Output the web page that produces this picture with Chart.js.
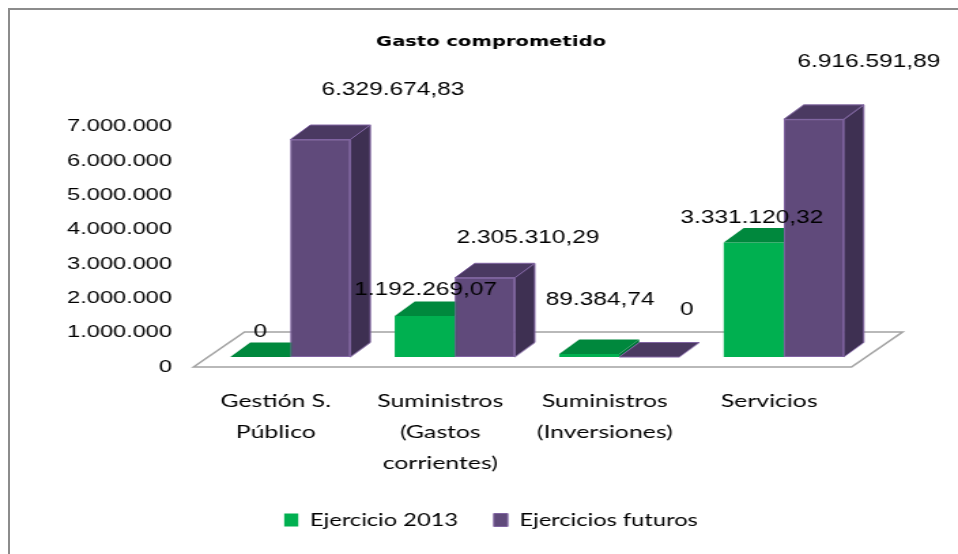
<!DOCTYPE html>
<html><head><meta charset="utf-8">
<script src="https://cdn.jsdelivr.net/npm/chart.js@4.4.1/dist/chart.umd.min.js"></script>
<style>
html,body{margin:0;padding:0;background:#fff;overflow:hidden;}
#wrap{position:relative;width:958px;height:554px;overflow:hidden;}
#c{position:absolute;left:0;top:0;}
#frame{position:absolute;left:8px;top:8px;width:1200px;height:1200px;border:2px solid #8c8c8c;box-sizing:border-box;pointer-events:none;}
</style></head>
<body><div id="wrap"><canvas id="c" width="704" height="554" style="width:958px;height:554px;"></canvas><div id="frame"></div></div>
<script>
// ---- data ----
const categories = [['Gestión S.','Público'], ['Suministros','(Gastos','corrientes)'], ['Suministros','(Inversiones)'], ['Servicios']];
const seriesNames = ['Ejercicio 2013', 'Ejercicios futuros'];
const ejercicio2013 = [0, 1192269.07, 89384.74, 3331120.32];
const ejerciciosFuturos = [6329674.83, 2305310.29, 0, 6916591.89];
const yTickLabels = ['0','1.000.000','2.000.000','3.000.000','4.000.000','5.000.000','6.000.000','7.000.000'];
const yMax = 7000000, yStep = 1000000;
const titleText = 'Gasto comprometido';

// ---- style / layout (canvas is stretched horizontally by S) ----
const S = 958 / 704;
const labelNudge = [
  [[0,-25],[0.7,-26],[8.1,-54],[-1.3,-24.6]],
  [[53.5,-49.5],[31.8,-40],[27.7,-47],[40.6,-57.4]]
];
const colors = {
  front: ['#00B050', '#604A7B'],
  top:   ['#00883D', '#4A3961'],
  side:  ['#00763A', '#3E3052'],
  edge:  [null, '#8064A2']
};

const mctx = document.createElement('canvas').getContext('2d');
function fitSize(text, fam, weight, target){
  mctx.font = weight + ' 100px ' + fam;
  return 100 * target / mctx.measureText(text).width;
}
const tickFamName = 'Liberation Sans';
const tickSize = fitSize('7.000.000', '"Liberation Sans"', 'normal', 105/S);
const xFam = 'Lato';
const xSize = fitSize('Suministros', 'Lato', 'normal', 126/S);
const legSize = fitSize('Ejercicio 2013', 'Lato', 'normal', 148/S);
const titleSize = fitSize(titleText, '"DejaVu Sans"', 'bold', 230/S);
const dlFam = '"Liberation Sans"';
const dlSize = fitSize('6.329.674,83', dlFam, 'normal', 143/S);

const AREA = {L: 208/S, R: 866/S, T: 116.5, B: 357};
const padL = 30;
const titleCenter = 491/S;
const padR = padL + 704 - 2*titleCenter;
const rightAxisW = 704 - AREA.R - padR;
const titleLH = titleSize*1.2;
const titlePadTop = 42 - titleLH/2;
const titlePadBot = AREA.T - titlePadTop - titleLH;
const legPad = 35.7/S;
const legTop = 520 - legPad - legSize/2;
const legH = legSize + legPad + 10;
const padB = 554 - legTop - legH;
const xAxisH = legTop - AREA.B;

const barDX = 20/S, barDY = 14.5;
const floorF = {dx: -14.5/S, dy: 10}, floorK = {dx: 36.5/S, dy: -25};

function fmt(v){
  if (v === 0) return '0';
  const p = v.toFixed(2).split('.');
  return p[0].replace(/\B(?=(\d{3})+(?!\d))/g, '.') + ',' + p[1];
}

function poly(ctx, pts, fill, stroke){
  ctx.beginPath(); ctx.moveTo(pts[0][0], pts[0][1]);
  for (let i=1;i<pts.length;i++) ctx.lineTo(pts[i][0], pts[i][1]);
  ctx.closePath(); ctx.fillStyle = fill; ctx.fill();
  if (stroke){ ctx.strokeStyle = stroke; ctx.lineWidth = 1; ctx.stroke(); }
}

const bar3d = {
  id: 'bar3d',
  beforeDatasetsDraw(chart){
    const ctx = chart.ctx, a = chart.chartArea;
    ctx.save();
    poly(ctx, [[a.left+floorF.dx, a.bottom+floorF.dy],[a.left+floorK.dx, a.bottom+floorK.dy],
               [a.right+floorK.dx, a.bottom+floorK.dy],[a.right+floorF.dx, a.bottom+floorF.dy]], '#ffffff', null);
    ctx.strokeStyle = '#a3a3a3'; ctx.lineWidth = 1.6; ctx.stroke();
    ctx.restore();
  },
  afterDatasetsDraw(chart){
    const ctx = chart.ctx;
    const n = chart.data.labels.length;
    ctx.save();
    for (let i=0;i<n;i++){
      for (let d=0; d<chart.data.datasets.length; d++){
        const el = chart.getDatasetMeta(d).data[i];
        const p = el.getProps(['x','y','base','width'], true);
        const l = p.x - p.width/2, r = p.x + p.width/2;
        const top = Math.min(p.y, p.base), bot = Math.max(p.y, p.base);
        if (d > 0) el.draw(ctx);
        const edge = colors.edge[d];
        if (bot - top > 0.5)
          poly(ctx, [[r,top],[r+barDX,top-barDY],[r+barDX,bot-barDY],[r,bot]], colors.side[d], edge);
        poly(ctx, [[l,top],[r,top],[r+barDX,top-barDY],[l+barDX,top-barDY]], colors.top[d], edge);
      }
    }
    ctx.restore();
  },
  afterDraw(chart){
    const ctx = chart.ctx;
    ctx.save();
    ctx.font = dlSize + 'px ' + dlFam;
    ctx.fillStyle = '#000'; ctx.textAlign = 'center'; ctx.textBaseline = 'middle';
    chart.data.datasets.forEach((ds, d) => {
      chart.getDatasetMeta(d).data.forEach((el, i) => {
        const p = el.getProps(['x','y'], true);
        ctx.fillText(fmt(ds.data[i]), p.x + labelNudge[d][i][0], p.y + labelNudge[d][i][1]);
      });
    });
    ctx.restore();
  }
};

new Chart(document.getElementById('c'), {
  type: 'bar',
  data: {
    labels: categories,
    datasets: [
      {label: seriesNames[0], data: ejercicio2013, backgroundColor: colors.front[0], borderWidth: 0},
      {label: seriesNames[1], data: ejerciciosFuturos, backgroundColor: colors.front[1], borderColor: colors.edge[1], borderWidth: 1, borderSkipped: false}
    ]
  },
  options: {
    responsive: false, maintainAspectRatio: false, animation: false, devicePixelRatio: 1, events: [],
    layout: {padding: {left: padL, right: padR, top: 0, bottom: padB}},
    datasets: {bar: {categoryPercentage: 0.73, barPercentage: 1}},
    plugins: {
      tooltip: {enabled: false},
      title: {display: true, text: titleText, color: '#000',
        font: {family: 'DejaVu Sans', weight: 'bold', size: titleSize, lineHeight: 1.2},
        padding: {top: titlePadTop, bottom: titlePadBot}},
      legend: {position: 'bottom',
        labels: {color: '#000', font: {family: xFam, size: legSize}, boxWidth: 14/S, boxHeight: 13, padding: legPad,
          sort: (a, b) => a.datasetIndex - b.datasetIndex}}
    },
    scales: {
      x: {grid: {display: false, drawTicks: false}, border: {display: false},
        ticks: {color: '#000', font: {family: xFam, size: xSize, lineHeight: 31/xSize}, padding: 401 - AREA.B - 15.5,
          labelOffset: -14.5/S, maxRotation: 0, minRotation: 0, autoSkip: false},
        afterFit(s){ s.height = xAxisH; }},
      y: {min: 0, max: yMax, grid: {display: false, drawTicks: false}, border: {display: false},
        ticks: {stepSize: yStep, color: '#000', font: {family: tickFamName, size: tickSize},
          padding: (208-172)/S, labelOffset: 10, callback: (v, i) => yTickLabels[i]},
        afterFit(s){ s.width = AREA.L - padL; }},
      yPad: {type: 'linear', position: 'right', min: 0, max: 1, display: true,
        grid: {display: false, drawTicks: false}, border: {display: false}, ticks: {display: false},
        afterFit(s){ s.width = rightAxisW; }}
    }
  },
  plugins: [bar3d]
});
</script>
</body></html>
